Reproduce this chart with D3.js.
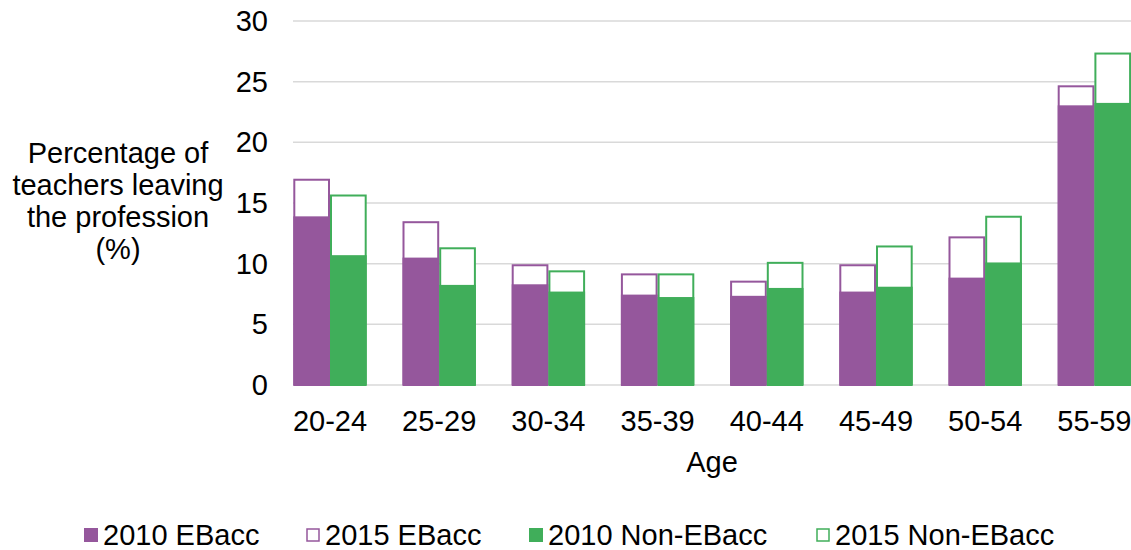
<!DOCTYPE html>
<html>
<head>
<meta charset="utf-8">
<script src="https://cdn.jsdelivr.net/npm/d3@7/dist/d3.min.js"></script>
<style>
  html, body { margin: 0; padding: 0; background: #fff; }
  svg { display: block; font-family: "Liberation Sans", Arial, sans-serif; }
</style>
</head>
<body>
<svg id="chart" width="1131" height="550"></svg>
<script>
const categories = ["20-24","25-29","30-34","35-39","40-44","45-49","50-54","55-59"];
const ebacc2010 = [13.9, 10.5, 8.3, 7.45, 7.35, 7.7, 8.85, 23.05];
const ebacc2015 = [17.0, 13.5, 9.95, 9.2, 8.6, 9.95, 12.25, 24.7];
const nonEbacc2010 = [10.7, 8.25, 7.7, 7.25, 8.0, 8.1, 10.1, 23.25];
const nonEbacc2015 = [15.7, 11.35, 9.45, 9.2, 10.15, 11.5, 13.95, 27.4];
const yTicks = [0, 5, 10, 15, 20, 25, 30];
const seriesNames = ["2010 EBacc", "2015 EBacc", "2010 Non-EBacc", "2015 Non-EBacc"];

const purple = "#95579C";
const green = "#40AE5A";
const grid = "#D9D9D9";
const fontSize = 29;

const svg = d3.select("#chart");

const y = d3.scaleLinear().domain([0, 30]).range([385, 21]);
const x = d3.scaleBand().domain(categories).range([275.4, 1149]).paddingInner(0).paddingOuter(0);
const groupW = 73.4;
const inner = d3.scaleBand().domain(["eb", "ne"]).range([0, groupW]);
const gx = c => x(c) + (x.bandwidth() - groupW) / 2;

// gridlines
svg.append("g").selectAll("line").data(yTicks).join("line")
  .attr("x1", 293).attr("x2", 1131)
  .attr("y1", d => y(d)).attr("y2", d => y(d))
  .attr("stroke", grid).attr("stroke-width", 1.5);

// y tick labels
svg.append("g").selectAll("text").data(yTicks).join("text")
  .attr("x", 268).attr("y", d => y(d)).attr("dy", "0.35em")
  .attr("text-anchor", "end").attr("font-size", fontSize).attr("fill", "#000")
  .text(d => d);

const bw = inner.bandwidth();
const rows = categories.map((c, i) => ({c, e10: ebacc2010[i], e15: ebacc2015[i], n10: nonEbacc2010[i], n15: nonEbacc2015[i]}));

const bars = svg.append("g");
// 2015 outlines
bars.selectAll("rect.e15").data(rows).join("rect").attr("class", "e15")
  .attr("x", d => gx(d.c) + inner("eb") + 1).attr("width", bw - 2)
  .attr("y", d => y(d.e15) + 1).attr("height", d => y(0) - y(d.e15) - 1)
  .attr("fill", "#fff").attr("stroke", purple).attr("stroke-width", 2);
bars.selectAll("rect.n15").data(rows).join("rect").attr("class", "n15")
  .attr("x", d => gx(d.c) + inner("ne") + 1).attr("width", bw - 2)
  .attr("y", d => y(d.n15) + 1).attr("height", d => y(0) - y(d.n15) - 1)
  .attr("fill", "#fff").attr("stroke", green).attr("stroke-width", 2);
// 2010 fills
bars.selectAll("rect.e10").data(rows).join("rect").attr("class", "e10")
  .attr("x", d => gx(d.c) + inner("eb")).attr("width", bw)
  .attr("y", d => y(d.e10)).attr("height", d => y(0) - y(d.e10))
  .attr("fill", purple);
bars.selectAll("rect.n10").data(rows).join("rect").attr("class", "n10")
  .attr("x", d => gx(d.c) + inner("ne")).attr("width", bw)
  .attr("y", d => y(d.n10)).attr("height", d => y(0) - y(d.n10))
  .attr("fill", green);

// x category labels
svg.append("g").selectAll("text").data(categories).join("text")
  .attr("x", d => gx(d) + groupW / 2).attr("y", 431)
  .attr("text-anchor", "middle").attr("font-size", fontSize).attr("fill", "#000")
  .text(d => d);

// axis titles
svg.append("text").attr("x", 712).attr("y", 472).attr("text-anchor", "middle")
  .attr("font-size", fontSize).attr("fill", "#000").text("Age");

const yTitle = ["Percentage of", "teachers leaving", "the profession", "(%)"];
svg.append("g").selectAll("text").data(yTitle).join("text")
  .attr("x", 118).attr("y", (d, i) => 163 + i * 32)
  .attr("text-anchor", "middle").attr("font-size", fontSize).attr("fill", "#000")
  .text(d => d);

// legend
const legendX = [84, 306, 529, 816];
const legendStyle = [
  {fill: purple, stroke: "none"},
  {fill: "#fff", stroke: purple},
  {fill: green, stroke: "none"},
  {fill: "#fff", stroke: green}
];
const lg = svg.append("g").selectAll("g").data(seriesNames).join("g")
  .attr("transform", (d, i) => `translate(${legendX[i]},0)`);
lg.append("rect")
  .attr("x", (d, i) => legendStyle[i].stroke === "none" ? 0 : 1)
  .attr("y", (d, i) => legendStyle[i].stroke === "none" ? 528 : 529)
  .attr("width", (d, i) => legendStyle[i].stroke === "none" ? 14 : 12)
  .attr("height", (d, i) => legendStyle[i].stroke === "none" ? 14 : 12)
  .attr("fill", (d, i) => legendStyle[i].fill)
  .attr("stroke", (d, i) => legendStyle[i].stroke)
  .attr("stroke-width", 1.5);
lg.append("text").attr("x", 19).attr("y", 545)
  .attr("font-size", fontSize).attr("fill", "#000").text(d => d);
</script>
</body>
</html>
